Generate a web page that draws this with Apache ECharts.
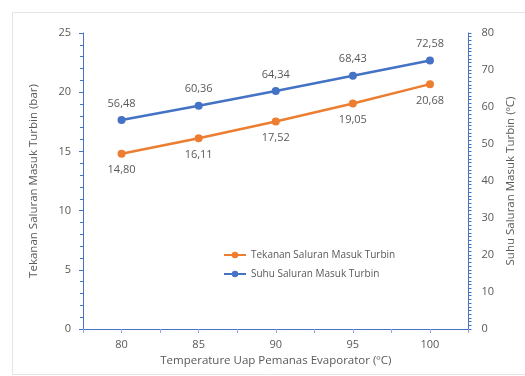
<!DOCTYPE html>
<html><head><meta charset="utf-8">
<script src="https://cdn.jsdelivr.net/npm/echarts@6/dist/echarts.min.js"></script>
<style>html,body{margin:0;padding:0;background:#fff}#c{width:525px;height:376px}</style>
</head><body><div id="c"></div>
<script>
var categories = [80, 85, 90, 95, 100];
var tekanan = [14.80, 16.11, 17.52, 19.05, 20.68];
var suhu = [56.48, 60.36, 64.34, 68.43, 72.58];
var seriesNames = ['Tekanan Saluran Masuk Turbin', 'Suhu Saluran Masuk Turbin'];
var xTitle = 'Temperature Uap Pemanas Evaporator (ºC)';
var yLeftTitle = 'Tekanan Saluran Masuk Turbin (bar)';
var yRightTitle = 'Suhu Saluran Masuk Turbin (ºC)';

var chart = echarts.init(document.getElementById('c'), null, {renderer: 'canvas'});
var txt = '#595959', blue = '#4472C4', orange = '#ED7D31', ff = 'Open Sans, Calibri, sans-serif';
function fmt(v){ return v.toFixed(2).replace('.', ','); }
function pairs(arr){ return categories.map(function(c,i){ return [c, arr[i]]; }); }
chart.setOption({
  animation: false,
  textStyle: {fontFamily: ff},
  graphic: [{type:'rect', left: 10, top: 10, shape:{width: 514, height: 362}, style:{fill:'none', stroke:'#e4e4e4', lineWidth:1}, silent:true}],
  grid: {left: 83, right: 55, top: 33, bottom: 47},
  legend: {
    orient: 'vertical', left: 218, top: 245, itemGap: 9, itemWidth: 22, itemHeight: 8,
    textStyle: {color: txt, fontSize: 10, fontFamily: ff},
    data: seriesNames
  },
  xAxis: {
    type: 'value', min: 77.5, max: 102.5, interval: 2.5,
    name: xTitle, nameLocation: 'middle', nameGap: 23,
    nameTextStyle: {color: txt, fontSize: 11.5, fontFamily: ff},
    axisLine: {show: true, lineStyle: {color: blue, width: 1}},
    axisTick: {show: true, length: 4, lineStyle: {color: '#8faadc'}},
    splitLine: {show: false},
    axisLabel: {color: txt, fontSize: 11, margin: 10, fontFamily: ff,
      formatter: function(v){ return (Math.abs(v % 5) < 1e-6) ? String(v) : ''; }}
  },
  yAxis: [{
    type: 'value', min: 0, max: 25, interval: 5,
    name: yLeftTitle, nameLocation: 'middle', nameGap: 43, nameRotate: 90,
    nameTextStyle: {color: txt, fontSize: 11.5, fontFamily: ff},
    axisLine: {show: true, lineStyle: {color: blue, width: 1}},
    axisTick: {show: true, length: 4, inside: false, lineStyle: {color: blue}},
    minorTick: {show: true, splitNumber: 5, length: 3, lineStyle: {color: blue}},
    splitLine: {show: false},
    axisLabel: {color: txt, fontSize: 11, margin: 12, fontFamily: ff}
  }, {
    type: 'value', min: 0, max: 80, interval: 10, position: 'right',
    name: yRightTitle, nameLocation: 'middle', nameGap: 34, nameRotate: 90,
    nameTextStyle: {color: txt, fontSize: 11.5, fontFamily: ff, verticalAlign: 'top'},
    axisLine: {show: true, lineStyle: {color: blue, width: 1}},
    axisTick: {show: true, length: 3, lineStyle: {color: blue}},
    minorTick: {show: true, splitNumber: 10, length: 3, lineStyle: {color: blue}},
    splitLine: {show: false},
    axisLabel: {color: txt, fontSize: 11, margin: 13, fontFamily: ff}
  }],
  series: [{
    name: seriesNames[0], type: 'line', yAxisIndex: 0,
    data: pairs(tekanan),
    symbol: 'circle', symbolSize: 8,
    itemStyle: {color: orange}, lineStyle: {color: orange, width: 2.5},
    label: {show: true, position: 'bottom', distance: 7, color: txt, fontSize: 11, fontFamily: ff,
      formatter: function(p){ return fmt(p.value[1]); }}
  }, {
    name: seriesNames[1], type: 'line', yAxisIndex: 1,
    data: pairs(suhu),
    symbol: 'circle', symbolSize: 8,
    itemStyle: {color: blue}, lineStyle: {color: blue, width: 2.5},
    label: {show: true, position: 'top', distance: 7, color: txt, fontSize: 11, fontFamily: ff,
      formatter: function(p){ return fmt(p.value[1]); }}
  }]
});
</script></body></html>
